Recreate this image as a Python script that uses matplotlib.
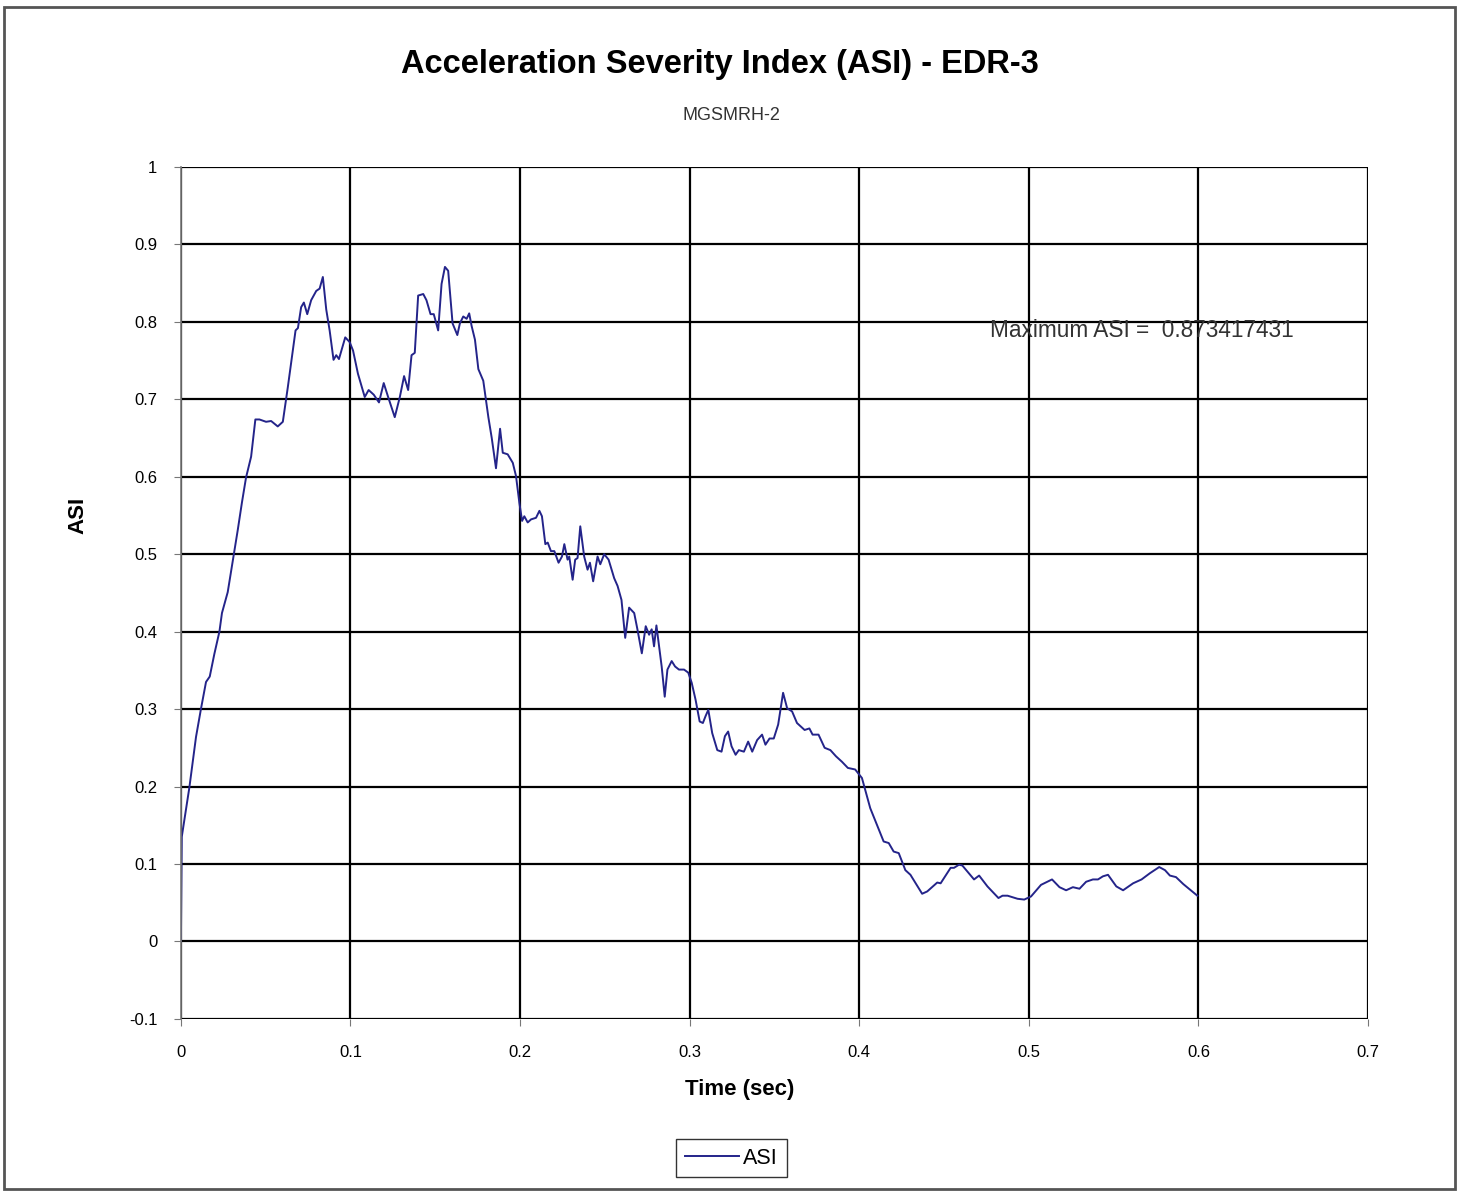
import matplotlib.pyplot as plt
from matplotlib.patches import Rectangle

plt.rcParams['font.family'] = ['Liberation Sans', 'DejaVu Sans']

# ASI trace
time_s = [0.0, 0.0005, 0.005, 0.0089, 0.0118, 0.0148, 0.017, 0.0197, 0.0227, 0.0242,
          0.0276, 0.0305, 0.0335, 0.036, 0.0384, 0.0414, 0.0439, 0.0463, 0.0502, 0.0532,
          0.0571, 0.0601, 0.063, 0.0676, 0.069, 0.0709, 0.0725, 0.0745, 0.0768, 0.0798,
          0.0818, 0.0837, 0.0857, 0.0877, 0.09, 0.0916, 0.0932, 0.0969, 0.0995, 0.1015,
          0.1044, 0.1084, 0.1107, 0.1137, 0.1168, 0.1196, 0.1222, 0.1261, 0.1291, 0.1316,
          0.134, 0.136, 0.1379, 0.1399, 0.1429, 0.1448, 0.1472, 0.1491, 0.1517, 0.1537,
          0.1557, 0.1576, 0.1602, 0.163, 0.1645, 0.1665, 0.1685, 0.17, 0.1714, 0.1734,
          0.1754, 0.1783, 0.1813, 0.1833, 0.1858, 0.1882, 0.1898, 0.1927, 0.1957, 0.1976,
          0.1996, 0.2012, 0.2025, 0.2045, 0.2065, 0.2094, 0.2114, 0.2129, 0.2149, 0.2163,
          0.2182, 0.2202, 0.2227, 0.2247, 0.2261, 0.228, 0.229, 0.231, 0.2325, 0.2339,
          0.2355, 0.2378, 0.2398, 0.2412, 0.2431, 0.2457, 0.2473, 0.2496, 0.2522, 0.2555,
          0.2575, 0.2598, 0.262, 0.2643, 0.2673, 0.2692, 0.2718, 0.2741, 0.2761, 0.2776,
          0.279, 0.2804, 0.282, 0.2835, 0.2853, 0.2869, 0.2894, 0.2914, 0.2937, 0.2967,
          0.2992, 0.3012, 0.3035, 0.3059, 0.3078, 0.3094, 0.311, 0.3133, 0.3163, 0.3188,
          0.3208, 0.3227, 0.3247, 0.3271, 0.329, 0.332, 0.3345, 0.3369, 0.3398, 0.3427,
          0.3447, 0.3471, 0.3496, 0.3522, 0.3551, 0.3575, 0.3604, 0.3633, 0.3678, 0.3706,
          0.3725, 0.376, 0.3796, 0.383, 0.3863, 0.3898, 0.3933, 0.3976, 0.4016, 0.4065,
          0.4144, 0.4174, 0.4203, 0.4233, 0.4272, 0.4302, 0.4371, 0.4401, 0.446, 0.448,
          0.4539, 0.4559, 0.4588, 0.4608, 0.4677, 0.4707, 0.4756, 0.4821, 0.4845, 0.4875,
          0.4904, 0.4934, 0.4973, 0.5013, 0.5072, 0.5137, 0.5181, 0.522, 0.526, 0.5299,
          0.5338, 0.5378, 0.5408, 0.5437, 0.5467, 0.5516, 0.5556, 0.5615, 0.5665, 0.5714,
          0.5769, 0.5803, 0.5832, 0.5868, 0.5911, 0.595, 0.5994]
asi = [0.0, 0.135, 0.199, 0.264, 0.30, 0.335, 0.342, 0.371, 0.40, 0.424,
       0.451, 0.49, 0.531, 0.567, 0.599, 0.626, 0.674, 0.674, 0.671, 0.672,
       0.665, 0.671, 0.715, 0.789, 0.792, 0.819, 0.825, 0.81, 0.828, 0.84,
       0.843, 0.858, 0.816, 0.789, 0.751, 0.757, 0.752, 0.78, 0.774, 0.763,
       0.733, 0.703, 0.712, 0.706, 0.696, 0.721, 0.703, 0.677, 0.703, 0.73,
       0.712, 0.757, 0.76, 0.834, 0.836, 0.828, 0.81, 0.81, 0.789, 0.849,
       0.871, 0.866, 0.798, 0.783, 0.798, 0.807, 0.804, 0.811, 0.795, 0.777,
       0.739, 0.724, 0.677, 0.65, 0.611, 0.662, 0.631, 0.629, 0.618, 0.601,
       0.566, 0.543, 0.549, 0.541, 0.545, 0.547, 0.556, 0.549, 0.513, 0.515,
       0.504, 0.504, 0.489, 0.497, 0.513, 0.493, 0.497, 0.467, 0.493, 0.495,
       0.536, 0.497, 0.48, 0.489, 0.465, 0.497, 0.487, 0.5, 0.493, 0.469,
       0.459, 0.441, 0.392, 0.431, 0.424, 0.403, 0.372, 0.407, 0.396, 0.403,
       0.381, 0.408, 0.381, 0.355, 0.316, 0.351, 0.362, 0.355, 0.351, 0.351,
       0.347, 0.334, 0.312, 0.284, 0.282, 0.291, 0.299, 0.269, 0.247, 0.245,
       0.265, 0.271, 0.252, 0.241, 0.247, 0.245, 0.258, 0.245, 0.26, 0.267,
       0.254, 0.262, 0.262, 0.28, 0.321, 0.301, 0.297, 0.282, 0.273, 0.275,
       0.267, 0.267, 0.25, 0.247, 0.239, 0.232, 0.224, 0.222, 0.211, 0.172,
       0.129, 0.127, 0.116, 0.114, 0.092, 0.086, 0.0615, 0.0645, 0.076, 0.075,
       0.095, 0.095, 0.099, 0.098, 0.08, 0.085, 0.071, 0.056, 0.059, 0.059,
       0.057, 0.055, 0.054, 0.058, 0.073, 0.08, 0.07, 0.066, 0.07, 0.068,
       0.077, 0.08, 0.08, 0.084, 0.086, 0.071, 0.066, 0.075, 0.08, 0.088,
       0.096, 0.092, 0.085, 0.083, 0.074, 0.067, 0.059]

x_ticks = [0, 0.1, 0.2, 0.3, 0.4, 0.5, 0.6, 0.7]
y_ticks = [-0.1, 0, 0.1, 0.2, 0.3, 0.4, 0.5, 0.6, 0.7, 0.8, 0.9, 1]
max_asi = 0.873417431

fig = plt.figure(figsize=(14.59, 11.93), dpi=100)
fig.patches.append(Rectangle((0.003, 0.003), 0.994, 0.991, transform=fig.transFigure,
                             fill=False, edgecolor='#555555', linewidth=2))

ax = fig.add_axes([0.124, 0.146, 0.8136, 0.714])
ax.plot(time_s, asi, color='#24248a', linewidth=1.4, label='ASI')

ax.set_xlim(0, 0.7)
ax.set_ylim(-0.1, 1)
ax.set_xticks(x_ticks)
ax.set_xticklabels([f'{v:g}' for v in x_ticks])
ax.set_yticks(y_ticks)
ax.set_yticklabels([f'{v:g}' for v in y_ticks])
ax.grid(True, color='black', linewidth=1.6)
ax.set_axisbelow(True)
for side in ['top', 'right', 'bottom']:
    ax.spines[side].set_visible(False)
ax.spines['left'].set_color('#777777')
ax.spines['left'].set_linewidth(1.2)
ax.tick_params(axis='both', labelsize=12, length=5, color='#777777')
ax.tick_params(axis='y', pad=12)
ax.tick_params(axis='x', pad=14)

# axis titles sit where the reference puts them, not at the axes centre
fig.text(740 / 1459, 1 - 1089 / 1193, 'Time (sec)', ha='center', va='center',
         fontsize=16, fontweight='bold')
fig.text(78 / 1459, 1 - 515 / 1193, 'ASI', ha='center', va='center', rotation=90,
         fontsize=16, fontweight='bold')

fig.text(719.5 / 1459, 1 - 64 / 1193, 'Acceleration Severity Index (ASI) - EDR-3',
         ha='center', va='center', fontsize=23.5, fontweight='bold')
fig.text(731 / 1459, 1 - 116 / 1193, 'MGSMRH-2', ha='center', va='center',
         fontsize=13, color='#333333')

ax.text(0.5666, 0.789, f'Maximum ASI =  {max_asi:.9f}', ha='center', va='center',
        fontsize=16.3, color='#333333')

ax.legend(loc='center', bbox_to_anchor=(731.5 / 1459, 1 - 1158 / 1193),
          bbox_transform=fig.transFigure, fontsize=15.5, frameon=True,
          fancybox=False, edgecolor='black', handlelength=2.5, handletextpad=0.2,
          borderpad=0.4)

fig.savefig('out.png', dpi=100)
